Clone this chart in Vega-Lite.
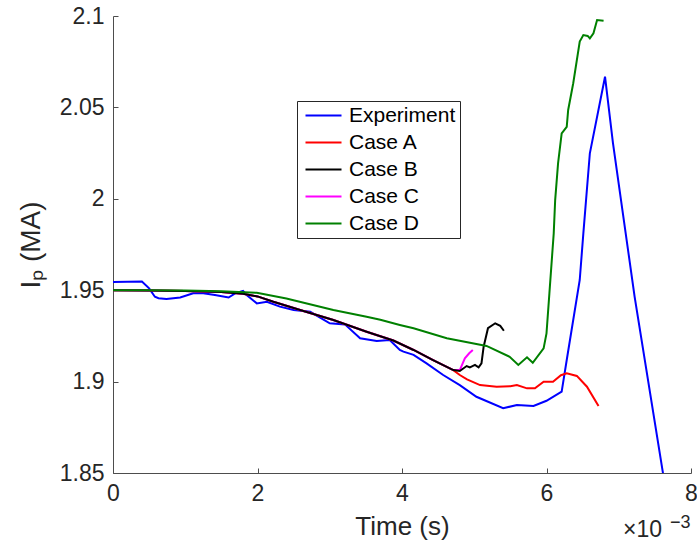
{
  "$schema": "https://vega.github.io/schema/vega-lite/v6.json",
  "width": 578,
  "height": 457,
  "autosize": {"type": "none"},
  "padding": {"left": 113, "top": 16, "right": 6, "bottom": 69},
  "background": "white",
  "config": {
    "view": {"stroke": null},
    "font": "Liberation Sans",
    "axis": {
      "domainColor": "#4d4d4d",
      "tickColor": "#4d4d4d",
      "labelColor": "#262626",
      "titleColor": "#262626",
      "labelFont": "Liberation Sans",
      "labelFontSize": 23,
      "titleFont": "Liberation Sans",
      "titleFontSize": 26,
      "titleFontWeight": "normal",
      "grid": false,
      "tickSize": -5,
      "domainWidth": 1,
      "tickWidth": 1,
      "labelFlush": false,
      "labelOverlap": false,
      "labelBound": false
    },
    "legend": {
      "orient": "none",
      "legendX": 184,
      "legendY": 85,
      "strokeColor": "#262626",
      "fillColor": "white",
      "padding": 4,
      "labelFont": "Liberation Sans",
      "labelFontSize": 21,
      "labelColor": "#000000",
      "symbolType": "M-1,0H5",
      "symbolSize": 144,
      "symbolStrokeWidth": 2,
      "labelOffset": 27,
      "rowPadding": 5,
      "cornerRadius": 0
    }
  },
  "data": {
    "values": [
      {"series": "Experiment", "t": 0, "ip": 1.9545},
      {"series": "Experiment", "t": 0.4, "ip": 1.9548},
      {"series": "Experiment", "t": 0.5, "ip": 1.951},
      {"series": "Experiment", "t": 0.58, "ip": 1.9464},
      {"series": "Experiment", "t": 0.63, "ip": 1.9456},
      {"series": "Experiment", "t": 0.74, "ip": 1.9452},
      {"series": "Experiment", "t": 0.93, "ip": 1.946},
      {"series": "Experiment", "t": 1.11, "ip": 1.9483},
      {"series": "Experiment", "t": 1.25, "ip": 1.9483},
      {"series": "Experiment", "t": 1.41, "ip": 1.9474},
      {"series": "Experiment", "t": 1.6, "ip": 1.946},
      {"series": "Experiment", "t": 1.69, "ip": 1.9483},
      {"series": "Experiment", "t": 1.8, "ip": 1.9496},
      {"series": "Experiment", "t": 1.85, "ip": 1.9474},
      {"series": "Experiment", "t": 1.99, "ip": 1.9428},
      {"series": "Experiment", "t": 2.13, "ip": 1.9437},
      {"series": "Experiment", "t": 2.31, "ip": 1.941},
      {"series": "Experiment", "t": 2.5, "ip": 1.9392},
      {"series": "Experiment", "t": 2.73, "ip": 1.9382},
      {"series": "Experiment", "t": 3.0, "ip": 1.9319},
      {"series": "Experiment", "t": 3.21, "ip": 1.9313},
      {"series": "Experiment", "t": 3.42, "ip": 1.9237},
      {"series": "Experiment", "t": 3.65, "ip": 1.9222},
      {"series": "Experiment", "t": 3.83, "ip": 1.9228},
      {"series": "Experiment", "t": 3.97, "ip": 1.9173},
      {"series": "Experiment", "t": 4.02, "ip": 1.9164},
      {"series": "Experiment", "t": 4.16, "ip": 1.9146},
      {"series": "Experiment", "t": 4.34, "ip": 1.91},
      {"series": "Experiment", "t": 4.57, "ip": 1.9036},
      {"series": "Experiment", "t": 4.8, "ip": 1.8981},
      {"series": "Experiment", "t": 5.03, "ip": 1.8917},
      {"series": "Experiment", "t": 5.4, "ip": 1.8854},
      {"series": "Experiment", "t": 5.59, "ip": 1.8872},
      {"series": "Experiment", "t": 5.82, "ip": 1.8867},
      {"series": "Experiment", "t": 6.0, "ip": 1.8895},
      {"series": "Experiment", "t": 6.21, "ip": 1.8945},
      {"series": "Experiment", "t": 6.28, "ip": 1.9118},
      {"series": "Experiment", "t": 6.46, "ip": 1.9556},
      {"series": "Experiment", "t": 6.51, "ip": 1.9811},
      {"series": "Experiment", "t": 6.6, "ip": 2.0249},
      {"series": "Experiment", "t": 6.81, "ip": 2.0668},
      {"series": "Experiment", "t": 6.92, "ip": 2.0304},
      {"series": "Experiment", "t": 7.22, "ip": 1.9464},
      {"series": "Experiment", "t": 7.62, "ip": 1.848},

      {"series": "Case A", "t": 0, "ip": 1.95},
      {"series": "Case A", "t": 0.5, "ip": 1.9499},
      {"series": "Case A", "t": 1.0, "ip": 1.9496},
      {"series": "Case A", "t": 1.5, "ip": 1.949},
      {"series": "Case A", "t": 1.8, "ip": 1.948},
      {"series": "Case A", "t": 2.0, "ip": 1.9466},
      {"series": "Case A", "t": 2.22, "ip": 1.9437},
      {"series": "Case A", "t": 2.59, "ip": 1.9392},
      {"series": "Case A", "t": 3.05, "ip": 1.9337},
      {"series": "Case A", "t": 3.51, "ip": 1.9273},
      {"series": "Case A", "t": 3.7, "ip": 1.9248},
      {"series": "Case A", "t": 3.88, "ip": 1.9225},
      {"series": "Case A", "t": 4.16, "ip": 1.9173},
      {"series": "Case A", "t": 4.43, "ip": 1.9118},
      {"series": "Case A", "t": 4.71, "ip": 1.9063},
      {"series": "Case A", "t": 4.8, "ip": 1.9036},
      {"series": "Case A", "t": 4.9, "ip": 1.9012},
      {"series": "Case A", "t": 5.08, "ip": 1.8981},
      {"series": "Case A", "t": 5.31, "ip": 1.8972},
      {"series": "Case A", "t": 5.5, "ip": 1.8975},
      {"series": "Case A", "t": 5.59, "ip": 1.8981},
      {"series": "Case A", "t": 5.73, "ip": 1.8963},
      {"series": "Case A", "t": 5.84, "ip": 1.8963},
      {"series": "Case A", "t": 5.96, "ip": 1.8999},
      {"series": "Case A", "t": 6.09, "ip": 1.8999},
      {"series": "Case A", "t": 6.2, "ip": 1.9035},
      {"series": "Case A", "t": 6.28, "ip": 1.9045},
      {"series": "Case A", "t": 6.42, "ip": 1.9031},
      {"series": "Case A", "t": 6.56, "ip": 1.8972},
      {"series": "Case A", "t": 6.72, "ip": 1.8867},

      {"series": "Case B", "t": 0, "ip": 1.95},
      {"series": "Case B", "t": 0.5, "ip": 1.9499},
      {"series": "Case B", "t": 1.0, "ip": 1.9496},
      {"series": "Case B", "t": 1.5, "ip": 1.949},
      {"series": "Case B", "t": 1.8, "ip": 1.948},
      {"series": "Case B", "t": 2.0, "ip": 1.9466},
      {"series": "Case B", "t": 2.22, "ip": 1.9437},
      {"series": "Case B", "t": 2.59, "ip": 1.9392},
      {"series": "Case B", "t": 3.05, "ip": 1.9337},
      {"series": "Case B", "t": 3.51, "ip": 1.9273},
      {"series": "Case B", "t": 3.7, "ip": 1.9248},
      {"series": "Case B", "t": 3.88, "ip": 1.9225},
      {"series": "Case B", "t": 4.16, "ip": 1.9173},
      {"series": "Case B", "t": 4.43, "ip": 1.9118},
      {"series": "Case B", "t": 4.71, "ip": 1.9063},
      {"series": "Case B", "t": 4.8, "ip": 1.9058},
      {"series": "Case B", "t": 4.895, "ip": 1.9085},
      {"series": "Case B", "t": 4.94, "ip": 1.9078},
      {"series": "Case B", "t": 5.01, "ip": 1.9091},
      {"series": "Case B", "t": 5.06, "ip": 1.9078},
      {"series": "Case B", "t": 5.1, "ip": 1.91},
      {"series": "Case B", "t": 5.13, "ip": 1.9191},
      {"series": "Case B", "t": 5.19, "ip": 1.9292},
      {"series": "Case B", "t": 5.29, "ip": 1.9319},
      {"series": "Case B", "t": 5.36, "ip": 1.9305},
      {"series": "Case B", "t": 5.41, "ip": 1.9278},

      {"series": "Case C", "t": 0, "ip": 1.95},
      {"series": "Case C", "t": 0.5, "ip": 1.9499},
      {"series": "Case C", "t": 1.0, "ip": 1.9496},
      {"series": "Case C", "t": 1.5, "ip": 1.949},
      {"series": "Case C", "t": 1.8, "ip": 1.948},
      {"series": "Case C", "t": 2.0, "ip": 1.9466},
      {"series": "Case C", "t": 2.22, "ip": 1.9437},
      {"series": "Case C", "t": 2.59, "ip": 1.9392},
      {"series": "Case C", "t": 3.05, "ip": 1.9337},
      {"series": "Case C", "t": 3.51, "ip": 1.9273},
      {"series": "Case C", "t": 3.7, "ip": 1.9248},
      {"series": "Case C", "t": 3.88, "ip": 1.9225},
      {"series": "Case C", "t": 4.16, "ip": 1.9173},
      {"series": "Case C", "t": 4.43, "ip": 1.9118},
      {"series": "Case C", "t": 4.71, "ip": 1.9063},
      {"series": "Case C", "t": 4.8, "ip": 1.9063},
      {"series": "Case C", "t": 4.87, "ip": 1.9127},
      {"series": "Case C", "t": 4.93, "ip": 1.9155},
      {"series": "Case C", "t": 4.98, "ip": 1.9173},

      {"series": "Case D", "t": 0, "ip": 1.95},
      {"series": "Case D", "t": 0.5, "ip": 1.95},
      {"series": "Case D", "t": 1.0, "ip": 1.9498},
      {"series": "Case D", "t": 1.5, "ip": 1.9494},
      {"series": "Case D", "t": 1.99, "ip": 1.9486},
      {"series": "Case D", "t": 2.4, "ip": 1.9455},
      {"series": "Case D", "t": 3.05, "ip": 1.9392},
      {"series": "Case D", "t": 3.51, "ip": 1.9355},
      {"series": "Case D", "t": 3.7, "ip": 1.9338},
      {"series": "Case D", "t": 3.97, "ip": 1.931},
      {"series": "Case D", "t": 4.16, "ip": 1.9292},
      {"series": "Case D", "t": 4.62, "ip": 1.9237},
      {"series": "Case D", "t": 4.94, "ip": 1.9213},
      {"series": "Case D", "t": 5.17, "ip": 1.9195},
      {"series": "Case D", "t": 5.49, "ip": 1.9136},
      {"series": "Case D", "t": 5.61, "ip": 1.9091},
      {"series": "Case D", "t": 5.73, "ip": 1.9133},
      {"series": "Case D", "t": 5.81, "ip": 1.9103},
      {"series": "Case D", "t": 5.96, "ip": 1.9182},
      {"series": "Case D", "t": 6.0, "ip": 1.9264},
      {"series": "Case D", "t": 6.04, "ip": 1.9483},
      {"series": "Case D", "t": 6.1, "ip": 1.9811},
      {"series": "Case D", "t": 6.12, "ip": 1.9993},
      {"series": "Case D", "t": 6.16, "ip": 2.0194},
      {"series": "Case D", "t": 6.21, "ip": 2.0358},
      {"series": "Case D", "t": 6.28, "ip": 2.0394},
      {"series": "Case D", "t": 6.3, "ip": 2.0486},
      {"series": "Case D", "t": 6.37, "ip": 2.0632},
      {"series": "Case D", "t": 6.46, "ip": 2.086},
      {"series": "Case D", "t": 6.51, "ip": 2.0896},
      {"series": "Case D", "t": 6.57, "ip": 2.0891},
      {"series": "Case D", "t": 6.6, "ip": 2.0878},
      {"series": "Case D", "t": 6.65, "ip": 2.0905},
      {"series": "Case D", "t": 6.7, "ip": 2.0978},
      {"series": "Case D", "t": 6.79, "ip": 2.0974}
    ]
  },
  "layer": [
    {
      "encoding": {
        "x": {
          "field": "t",
          "type": "quantitative",
          "scale": {"domain": [0, 8], "nice": false, "zero": false},
          "axis": {"values": [0, 2, 4, 6, 8], "format": "d", "title": "Time (s)", "labelPadding": 14, "titlePadding": 8}
        },
        "y": {
          "field": "ip",
          "type": "quantitative",
          "scale": {"domain": [1.85, 2.1], "nice": false, "zero": false},
          "axis": {"values": [1.85, 1.9, 1.95, 2, 2.05, 2.1], "format": ".3~g", "title": "Iₚ (MA)", "labelPadding": 14, "titlePadding": 14, "titleFontSize": 28}
        },
        "color": {
          "field": "series",
          "type": "nominal",
          "title": null,
          "scale": {
            "domain": ["Experiment", "Case A", "Case B", "Case C", "Case D"],
            "range": ["#0000ff", "#ff0000", "#000000", "#ff00ff", "#008000"]
          }
        }
      },
      "layer": [
        {
          "transform": [{"filter": "datum.series === 'Experiment'"}],
          "mark": {"type": "line", "strokeWidth": 2, "clip": true}
        },
        {
          "transform": [{"filter": "datum.series === 'Case A'"}],
          "mark": {"type": "line", "strokeWidth": 2, "clip": true}
        },
        {
          "transform": [{"filter": "datum.series === 'Case C'"}],
          "mark": {"type": "line", "strokeWidth": 2, "clip": true}
        },
        {
          "transform": [{"filter": "datum.series === 'Case B'"}],
          "mark": {"type": "line", "strokeWidth": 2, "clip": true}
        },
        {
          "transform": [{"filter": "datum.series === 'Case D'"}],
          "mark": {"type": "line", "strokeWidth": 2, "clip": true}
        }
      ]
    },
    {
      "data": {"values": [{"label": "×10"}]},
      "mark": {"type": "text", "text": "×10", "font": "Liberation Sans", "fontSize": 23, "color": "#262626", "align": "left", "baseline": "alphabetic", "dx": -68, "dy": 64},
      "encoding": {"x": {"datum": 8, "type": "quantitative"}, "y": {"datum": 1.85, "type": "quantitative"}}
    },
    {
      "data": {"values": [{"label": "−3"}]},
      "mark": {"type": "text", "text": "−3", "font": "Liberation Sans", "fontSize": 18, "color": "#262626", "align": "left", "baseline": "alphabetic", "dx": -21, "dy": 55},
      "encoding": {"x": {"datum": 8, "type": "quantitative"}, "y": {"datum": 1.85, "type": "quantitative"}}
    }
  ]
}
